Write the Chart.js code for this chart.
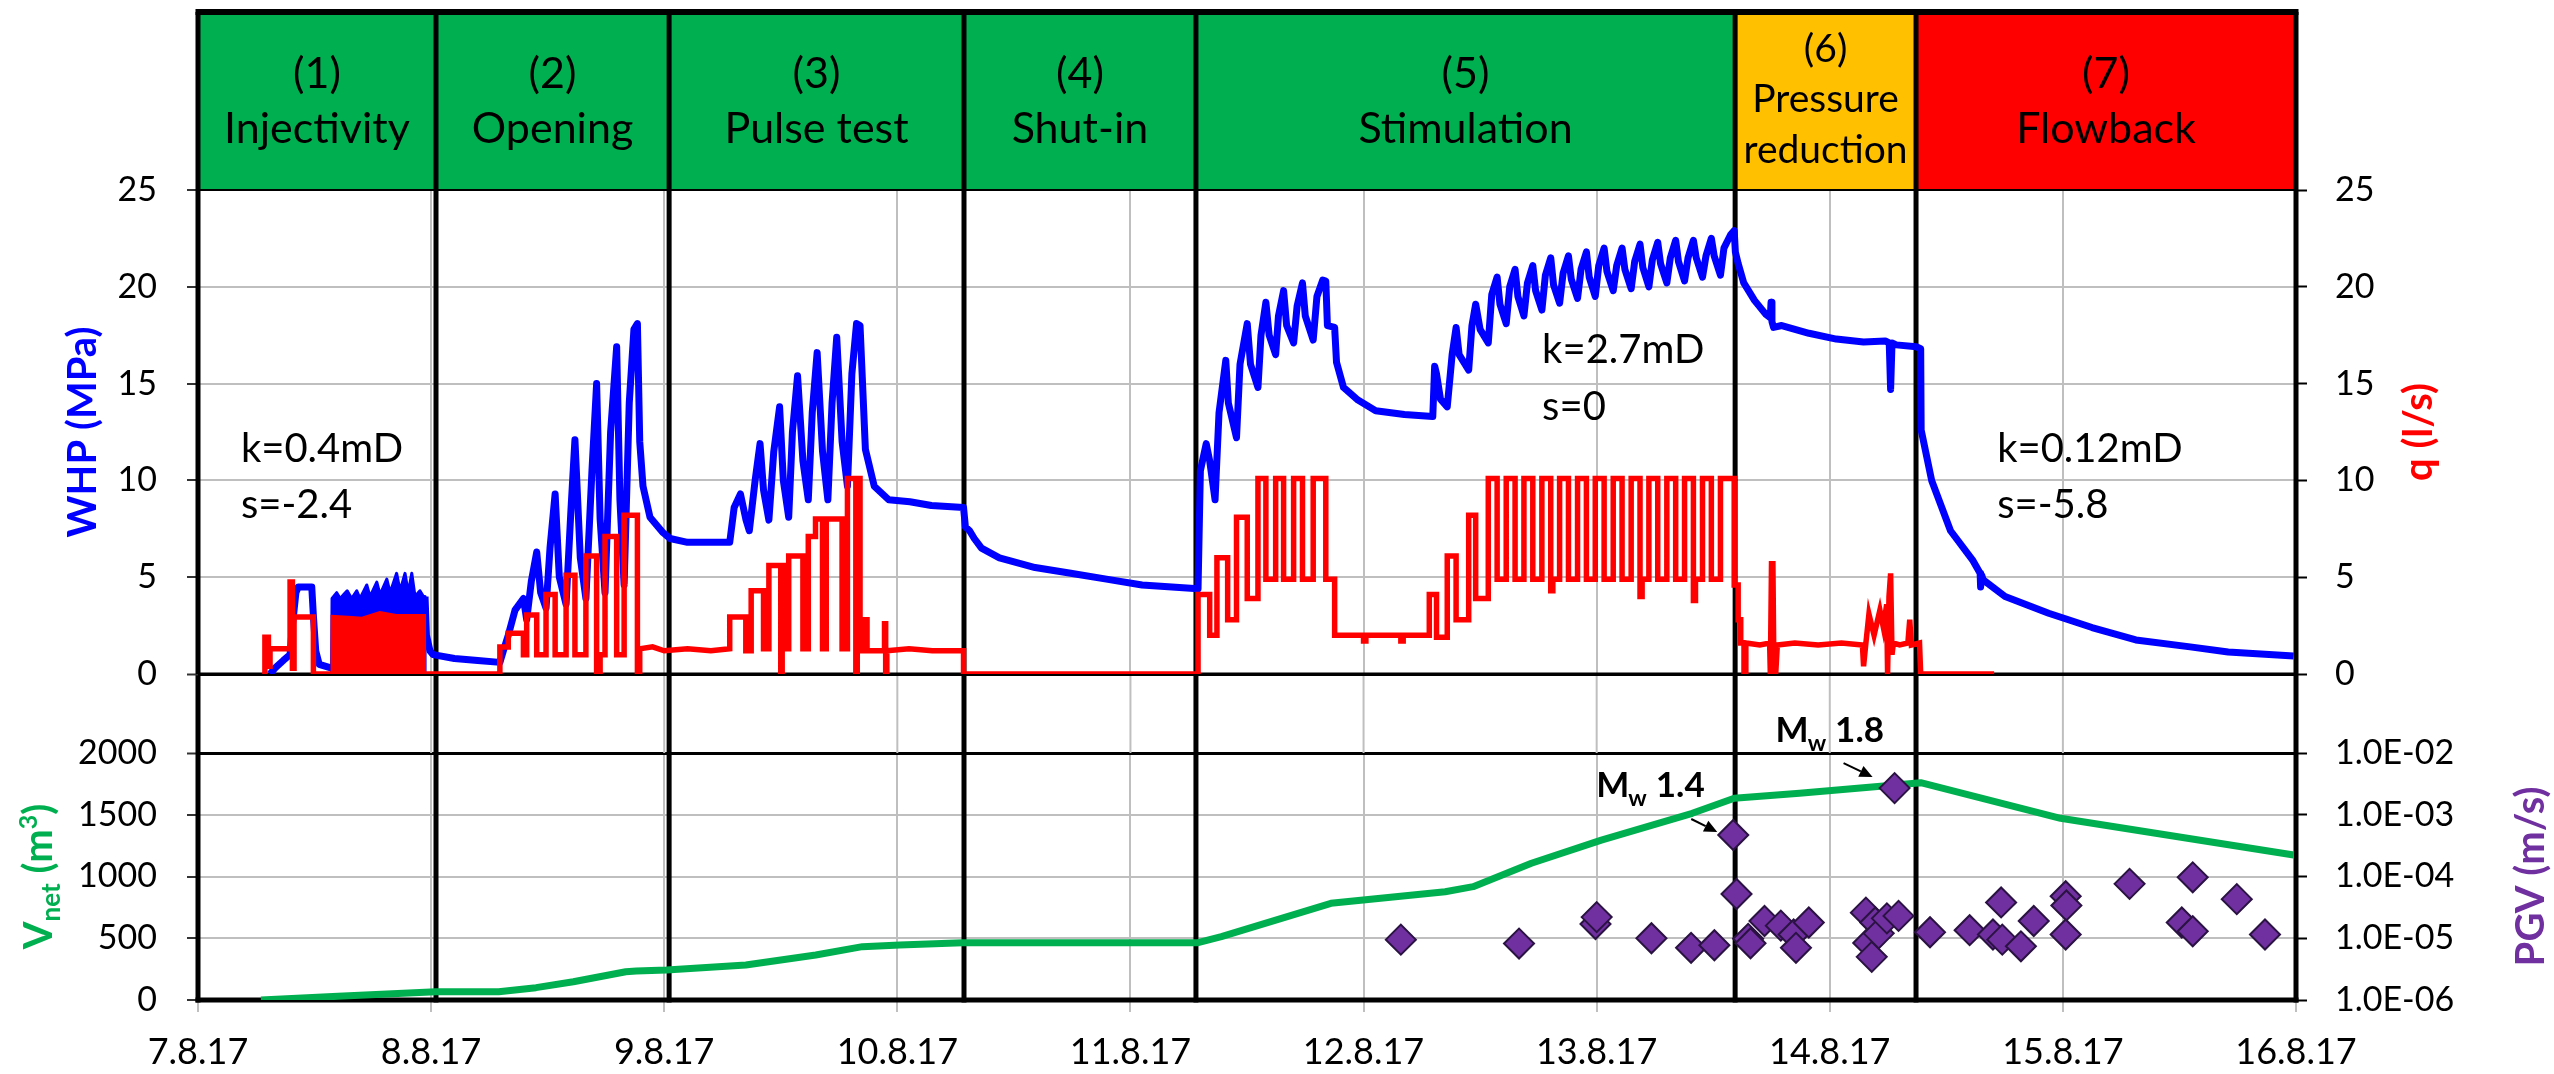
<!DOCTYPE html>
<html>
<head>
<meta charset="utf-8">
<title>Well test sequence</title>
<script src="https://cdn.jsdelivr.net/npm/chart.js@4.4.1/dist/chart.umd.min.js"></script>
<style>
  html, body { margin: 0; padding: 0; background: #ffffff; }
  #wrap { position: relative; width: 2554px; height: 1074px; overflow: hidden; }
  #wrap canvas { position: absolute; left: 0; top: 0; }
</style>
</head>
<body>
<div id="wrap">
  <canvas id="lower" width="2554" height="1074"></canvas>
  <canvas id="upper" width="2554" height="1074"></canvas>
</div>
<script>
// ---------------------------------------------------------------------------
// Data (time in days after 7.8.17 00:00)
// ---------------------------------------------------------------------------
const dateLabels = ['7.8.17', '8.8.17', '9.8.17', '10.8.17', '11.8.17', '12.8.17', '13.8.17', '14.8.17', '15.8.17', '16.8.17'];
const tickDays = [0, 1, 2, 3, 4, 5, 6, 7, 8, 9];

const phaseBounds = [0, 1.021, 2.021, 3.286, 4.281, 6.594, 7.370, 9];
const phaseNumbers = ['(1)', '(2)', '(3)', '(4)', '(5)', '(6)', '(7)'];
const phaseNames = [['Injectivity'], ['Opening'], ['Pulse test'], ['Shut-in'], ['Stimulation'], ['Pressure', 'reduction'], ['Flowback']];

const whpTicks = [0, 5, 10, 15, 20, 25];
const flowTicks = [0, 5, 10, 15, 20, 25];
const vnetTicks = [0, 500, 1000, 1500, 2000];
const pgvTicks = [1e-6, 1e-5, 1e-4, 1e-3, 1e-2];

// Wellhead pressure (MPa)
const wellheadPressure = [
  [0.309, 0], [0.330, 0.3], [0.366, 0.7], [0.395, 1.0], [0.405, 2.5], [0.420, 4.2], [0.430, 4.5], [0.488, 4.5],
  [0.495, 3.0], [0.505, 1.2], [0.520, 0.5], [0.573, 0.3], [0.750, null],
  [0.974, 4.0], [0.980, 2.0], [0.995, 1.2], [1.008, 1.0],
  [1.100, 0.8], [1.200, 0.7], [1.295, 0.6], [1.310, 1.2], [1.331, 2.0], [1.360, 3.3], [1.396, 3.9], [1.410, 2.8],
  [1.430, 4.8], [1.453, 6.3], [1.470, 4.2], [1.493, 3.4], [1.510, 6.5], [1.532, 9.3], [1.550, 5.0], [1.579, 3.6],
  [1.600, 8.5], [1.617, 12.1], [1.640, 6.0], [1.664, 3.9], [1.690, 10.5], [1.710, 15.0], [1.725, 8.0], [1.746, 4.2],
  [1.770, 12.5], [1.796, 16.9], [1.810, 9.0], [1.828, 4.6], [1.850, 14.0], [1.870, 17.8], [1.885, 18.1], [1.895, 12.0],
  [1.909, 9.7], [1.939, 8.1], [1.995, 7.3], [2.025, 7.0],
  [2.100, 6.8], [2.200, 6.8], [2.281, 6.8], [2.300, 8.6], [2.327, 9.3], [2.350, 8.0], [2.365, 7.4], [2.390, 10.0],
  [2.411, 11.9], [2.426, 9.5], [2.449, 7.95], [2.470, 11.5], [2.495, 13.8], [2.511, 10.0], [2.534, 8.1], [2.550, 12.5],
  [2.572, 15.4], [2.595, 11.0], [2.618, 9.0], [2.635, 13.5], [2.656, 16.6], [2.679, 11.5], [2.702, 9.0], [2.720, 14.0],
  [2.740, 17.4], [2.763, 12.0], [2.786, 9.7], [2.805, 15.5], [2.825, 18.1], [2.840, 18.0], [2.863, 11.6], [2.901, 9.7],
  [2.963, 9.0], [3.054, 8.9], [3.146, 8.7], [3.284, 8.6],
  [3.292, 7.6], [3.310, 7.4], [3.330, 7.0], [3.361, 6.5], [3.438, 6.0], [3.591, 5.5], [3.744, 5.2], [3.897, 4.9],
  [4.050, 4.6], [4.290, 4.4],
  [4.300, 10.5], [4.325, 11.9], [4.340, 11.0], [4.363, 9.0], [4.380, 13.5], [4.409, 16.2], [4.420, 14.0], [4.455, 12.2],
  [4.470, 16.0], [4.501, 18.1], [4.515, 16.0], [4.547, 14.8], [4.560, 17.5], [4.581, 19.2], [4.595, 17.5], [4.623, 16.5],
  [4.635, 18.5], [4.657, 19.8], [4.670, 18.0], [4.700, 17.1], [4.715, 19.0], [4.738, 20.2], [4.750, 18.5], [4.784, 17.25],
  [4.800, 19.5], [4.825, 20.35], [4.838, 20.3], [4.845, 18.0], [4.876, 17.9], [4.884, 16.1], [4.914, 14.8], [4.976, 14.15],
  [5.052, 13.6], [5.175, 13.4], [5.297, 13.3],
  [5.305, 15.9], [5.313, 15.5], [5.330, 14.2], [5.359, 13.8], [5.380, 16.5], [5.397, 17.9], [5.410, 16.5], [5.451, 15.7],
  [5.465, 18.0], [5.481, 19.1], [5.500, 17.8], [5.535, 17.1],
  [5.550, 19.6], [5.573, 20.5], [5.585, 19.1], [5.612, 18.1],
  [5.627, 20.0], [5.650, 20.9], [5.662, 19.5], [5.688, 18.5],
  [5.703, 20.2], [5.726, 21.1], [5.738, 19.8], [5.765, 18.8],
  [5.780, 20.6], [5.803, 21.5], [5.815, 20.1], [5.841, 19.15],
  [5.856, 20.7], [5.879, 21.6], [5.891, 20.4], [5.918, 19.4],
  [5.933, 20.9], [5.956, 21.8], [5.968, 20.5], [5.994, 19.5],
  [6.009, 21.1], [6.032, 22.0], [6.044, 20.8], [6.071, 19.8],
  [6.086, 21.1], [6.109, 22.0], [6.121, 20.9], [6.148, 19.9],
  [6.163, 21.3], [6.186, 22.2], [6.198, 21.0], [6.224, 20.0],
  [6.239, 21.4], [6.262, 22.3], [6.274, 21.2], [6.301, 20.2],
  [6.316, 21.5], [6.339, 22.4], [6.351, 21.3], [6.377, 20.3],
  [6.392, 21.5], [6.415, 22.4], [6.427, 21.5], [6.454, 20.5],
  [6.469, 21.6], [6.492, 22.5], [6.504, 21.6], [6.531, 20.6],
  [6.546, 22.0], [6.575, 22.7], [6.590, 22.9],
  [6.595, 21.8], [6.607, 21.2], [6.631, 20.2], [6.677, 19.3], [6.724, 18.6], [6.745, 18.4], [6.748, 19.2], [6.752, 18.2],
  [6.759, 17.9], [6.794, 18.0], [6.911, 17.6], [7.028, 17.3], [7.145, 17.15], [7.238, 17.2], [7.255, 17.1], [7.261, 14.7],
  [7.267, 17.1], [7.285, 17.0], [7.371, 16.9], [7.390, 16.8],
  [7.392, 12.6], [7.437, 10.0], [7.518, 7.4], [7.612, 5.9], [7.645, 5.2], [7.647, 4.5], [7.652, 5.1], [7.658, 4.86],
  [7.752, 4.0], [7.939, 3.14], [8.125, 2.4], [8.313, 1.76], [8.546, 1.4], [8.709, 1.14], [8.990, 0.93]
];

// Fast injectivity cycling: upper envelope of the pressure response (MPa)
const whpCyclingBand = [
  [0.573, 0], [0.573, 0.3], [0.575, 3.9], [0.595, 4.2], [0.610, 3.9], [0.625, 4.1], [0.640, 4.3], [0.659, 3.9],
  [0.681, 4.3], [0.695, 3.9], [0.724, 4.6], [0.738, 4.0], [0.767, 4.75], [0.781, 4.1], [0.810, 4.9], [0.824, 4.2],
  [0.852, 5.2], [0.867, 4.3], [0.888, 5.2], [0.902, 4.2], [0.917, 5.2], [0.931, 4.0], [0.952, 4.3], [0.967, 4.0],
  [0.974, 4.0], [0.974, 0]
];

// Injection / flow rate q (l/s)
const flowRate = [
  [0.287, 0], [0.287, 1.9], [0.302, 1.9], [0.302, 0.4], [0.309, 0.4], [0.309, 1.3], [0.395, 1.3], [0.395, 4.75],
  [0.405, 4.75], [0.405, 0.3], [0.412, 0.3], [0.412, 2.95], [0.495, 2.95], [0.495, 0], [0.573, 0],
  [0.974, 0], [1.295, 0],
  [1.295, 1.4], [1.331, 1.4], [1.331, 2.1], [1.396, 2.1], [1.396, 1.0], [1.410, 1.0], [1.410, 3.05], [1.453, 3.05],
  [1.453, 1.0], [1.493, 1.0], [1.493, 4.1], [1.532, 4.1], [1.532, 1.0], [1.579, 1.0], [1.579, 5.1], [1.617, 5.1],
  [1.617, 1.0], [1.664, 1.0], [1.664, 6.1], [1.710, 6.1], [1.710, 0], [1.725, 0], [1.725, 1.0], [1.746, 1.0],
  [1.746, 7.1], [1.796, 7.1], [1.796, 1.0], [1.828, 1.0], [1.828, 8.2], [1.885, 8.2], [1.885, 0], [1.895, 0],
  [1.895, 1.3], [1.950, 1.4], [2.000, 1.2], [2.100, 1.3], [2.200, 1.2], [2.281, 1.3],
  [2.281, 2.95], [2.350, 2.95], [2.350, 1.2], [2.373, 1.2], [2.373, 4.3], [2.426, 4.3], [2.426, 1.3], [2.449, 1.3],
  [2.449, 5.6], [2.500, 5.6], [2.500, 0], [2.506, 0], [2.506, 5.6], [2.511, 5.6], [2.511, 1.3], [2.534, 1.3],
  [2.534, 6.1], [2.595, 6.1], [2.595, 1.3], [2.618, 1.3], [2.618, 7.1], [2.649, 7.1], [2.649, 8.0], [2.679, 8.0],
  [2.679, 1.3], [2.695, 1.3], [2.695, 8.0], [2.763, 8.0], [2.763, 1.3], [2.786, 1.3], [2.786, 10.1], [2.822, 10.1],
  [2.822, 0], [2.828, 0], [2.828, 10.1], [2.840, 10.1], [2.840, 1.2], [2.863, 1.2], [2.863, 2.8], [2.870, 2.8],
  [2.870, 1.2], [2.945, 1.2], [2.945, 2.6], [2.950, 2.6], [2.950, 0], [2.955, 0], [2.955, 1.2], [3.050, 1.3],
  [3.150, 1.2], [3.284, 1.2], [3.284, 0],
  [4.290, 0],
  [4.290, 4.1], [4.340, 4.1], [4.340, 2.0], [4.371, 2.0], [4.371, 6.0], [4.417, 6.0], [4.417, 2.8], [4.455, 2.8],
  [4.455, 8.1], [4.501, 8.1], [4.501, 3.9], [4.547, 3.9], [4.547, 10.1], [4.581, 10.1], [4.581, 4.9], [4.623, 4.9],
  [4.623, 10.1], [4.657, 10.1], [4.657, 4.9], [4.700, 4.9], [4.700, 10.1], [4.738, 10.1], [4.738, 4.9], [4.784, 4.9],
  [4.784, 10.1], [4.838, 10.1], [4.838, 4.9], [4.876, 4.9], [4.876, 2.0], [5.000, 2.0], [5.000, 1.7], [5.010, 1.7],
  [5.010, 2.0], [5.160, 2.0], [5.160, 1.7], [5.170, 1.7], [5.170, 2.0], [5.282, 2.0],
  [5.282, 4.1], [5.313, 4.1], [5.313, 1.9], [5.359, 1.9], [5.359, 6.1], [5.397, 6.1], [5.397, 2.8], [5.451, 2.8],
  [5.451, 8.2], [5.481, 8.2], [5.481, 3.9], [5.535, 3.9],
  [5.535, 10.1], [5.573, 10.1], [5.573, 4.9], [5.612, 4.9],
  [5.612, 10.1], [5.650, 10.1], [5.650, 4.9], [5.688, 4.9],
  [5.688, 10.1], [5.726, 10.1], [5.726, 4.9], [5.765, 4.9],
  [5.765, 10.1], [5.803, 10.1], [5.803, 4.3], [5.812, 4.3], [5.812, 4.9], [5.841, 4.9],
  [5.841, 10.1], [5.879, 10.1], [5.879, 4.9], [5.918, 4.9],
  [5.918, 10.1], [5.956, 10.1], [5.956, 4.9], [5.994, 4.9],
  [5.994, 10.1], [6.032, 10.1], [6.032, 4.9], [6.071, 4.9],
  [6.071, 10.1], [6.109, 10.1], [6.109, 4.9], [6.148, 4.9],
  [6.148, 10.1], [6.186, 10.1], [6.186, 4.0], [6.195, 4.0], [6.195, 4.9], [6.224, 4.9],
  [6.224, 10.1], [6.262, 10.1], [6.262, 4.9], [6.301, 4.9],
  [6.301, 10.1], [6.339, 10.1], [6.339, 4.9], [6.377, 4.9],
  [6.377, 10.1], [6.415, 10.1], [6.415, 3.8], [6.424, 3.8], [6.424, 4.9], [6.454, 4.9],
  [6.454, 10.1], [6.492, 10.1], [6.492, 4.9], [6.531, 4.9],
  [6.531, 10.1], [6.590, 10.1],
  [6.590, 4.6], [6.607, 4.6], [6.607, 2.8], [6.618, 2.8], [6.618, 1.6], [6.632, 1.6], [6.632, 0], [6.640, 0],
  [6.640, 1.6], [6.700, 1.5], [6.742, 1.6], [6.745, 0], [6.750, 5.7], [6.756, 5.7], [6.760, 0.6], [6.768, 0],
  [6.775, 1.5], [6.850, 1.6], [6.950, 1.5], [7.050, 1.6], [7.140, 1.5], [7.145, 0.4], [7.155, 1.6], [7.168, 3.1],
  [7.190, 2.0], [7.215, 3.3], [7.230, 2.4], [7.244, 3.6], [7.248, 0], [7.254, 4.0], [7.261, 5.2], [7.267, 1.0],
  [7.273, 1.6], [7.300, 1.5], [7.335, 1.6], [7.343, 2.8], [7.350, 1.5], [7.385, 1.6], [7.390, 0],
  [7.705, 0]
];

// Fast injectivity cycling: envelope of the flow rate (l/s)
const flowCyclingBand = [
  [0.573, 0], [0.573, 3.0], [0.660, 2.95], [0.700, 2.9], [0.780, 3.2], [0.850, 3.05], [0.974, 3.05], [0.974, 0]
];

// Net injected volume V_net (m3)
const netVolume = [
  [0.27, 0], [0.60, 30], [1.02, 67], [1.29, 67], [1.45, 100], [1.61, 148], [1.835, 229], [1.88, 235],
  [2.01, 243], [2.35, 283], [2.65, 364], [2.85, 432], [3.01, 445], [3.28, 464], [4.29, 464], [4.39, 513],
  [4.86, 783], [5.35, 877], [5.47, 918], [5.72, 1107], [6.02, 1295], [6.41, 1512], [6.59, 1633], [6.87, 1674],
  [7.28, 1741], [7.39, 1760], [7.99, 1471], [8.99, 1174]
];

// Seismic events: peak ground velocity PGV (m/s)
const pgvEvents = [
  [5.160, 9.5e-6], [5.667, 8.2e-6], [5.995, 1.7e-5], [6.000, 2.2e-5], [6.235, 1.0e-5], [6.405, 7.0e-6],
  [6.505, 7.7e-6], [6.586, 4.7e-4], [6.600, 5.2e-5], [6.650, 9.8e-6], [6.660, 8.3e-6], [6.720, 1.9e-5],
  [6.790, 1.6e-5], [6.845, 1.15e-5], [6.855, 7.0e-6], [6.910, 1.8e-5], [7.155, 2.6e-5], [7.165, 8.4e-6],
  [7.180, 5.0e-6], [7.195, 1.8e-5], [7.210, 1.2e-5], [7.245, 2.1e-5], [7.278, 2.7e-3], [7.295, 2.3e-5],
  [7.430, 1.25e-5], [7.600, 1.35e-5], [7.700, 1.15e-5], [7.735, 3.8e-5], [7.740, 9.5e-6], [7.820, 7.4e-6],
  [7.875, 1.9e-5], [8.012, 4.8e-5], [8.015, 3.4e-5], [8.012, 1.15e-5], [8.286, 7.6e-5], [8.510, 1.8e-5],
  [8.557, 9.7e-5], [8.557, 1.3e-5], [8.746, 4.3e-5], [8.867, 1.15e-5]
];

// Largest events with their moment magnitude
const namedEvents = [
  { day: 6.586, pgv: 4.7e-4, mw: '1.4' },
  { day: 7.278, pgv: 2.7e-3, mw: '1.8' }
];

// Reservoir parameters from the pressure transient analyses
const fitNotes = [
  { day: 0.184, lines: ['k=0.4mD', 's=-2.4'] },
  { day: 5.766, lines: ['k=2.7mD', 's=0'] },
  { day: 7.718, lines: ['k=0.12mD', 's=-5.8'] }
];

// ---------------------------------------------------------------------------
// Styling and layout
// ---------------------------------------------------------------------------
const W = 2554, H = 1074;
const FRAME = { left: 198, right: 2296, headTop: 12, plotTop: 190, upperBottom: 674, lowerTop: 753, lowerBottom: 1000 };
const BLUE = '#0000FF', RED = '#FF0000', GREEN = '#00B050', PURPLE = '#7030A0', GRID = '#BFBFBF';
const phaseFill = ['#00B050', '#00B050', '#00B050', '#00B050', '#00B050', '#FFC000', '#FF0000'];
const FONT = 'Lato, "Open Sans", sans-serif';
// pressure values of the two text lines for each note (MPa)
const fitNoteLevels = [[10.96, 8.06], [16.06, 13.12], [10.96, 8.06]];
// text / arrow offsets (px) around each named event marker
const mwLabelOffsets = [
  { tx: -137, ty: -38, ax0: -42, ay0: -16, ax1: -16, ay1: -3 },
  { tx: -119, ty: -46, ax0: -51, ay0: -25, ax1: -22, ay1: -11 }
];

const pts = arr => arr.map(([x, y]) => ({ x, y }));
const fixedTicks = list => scale => { scale.ticks = list.map(v => ({ value: v })); };
const plain = v => String(v);

function sci(v) {
  const e = Math.round(Math.log10(v));
  return '1.0E' + (e < 0 ? '-' : '+') + String(Math.abs(e)).padStart(2, '0');
}

function seg(ctx, x0, y0, x1, y1, w, c) {
  ctx.save();
  ctx.beginPath();
  ctx.moveTo(x0, y0);
  ctx.lineTo(x1, y1);
  ctx.lineWidth = w;
  ctx.strokeStyle = c;
  ctx.stroke();
  ctx.restore();
}

// rotated axis title made of runs (for sub/superscripts)
function verticalTitle(ctx, cx, cy, runs, color) {
  ctx.save();
  ctx.translate(cx, cy);
  ctx.rotate(-Math.PI / 2);
  ctx.fillStyle = color;
  ctx.textAlign = 'left';
  ctx.textBaseline = 'alphabetic';
  let total = 0;
  for (const r of runs) {
    ctx.font = `bold ${r.size}px ${FONT}`;
    r.w = ctx.measureText(r.t).width;
    total += r.w;
  }
  let xx = -total / 2;
  for (const r of runs) {
    ctx.font = `bold ${r.size}px ${FONT}`;
    ctx.fillText(r.t, xx, 14 + (r.dy || 0));
    xx += r.w;
  }
  ctx.restore();
}

function arrow(ctx, x0, y0, x1, y1) {
  const ang = Math.atan2(y1 - y0, x1 - x0);
  const len = 13, half = 6;
  const bx = x1 - len * Math.cos(ang), by = y1 - len * Math.sin(ang);
  seg(ctx, x0, y0, bx, by, 2, '#000');
  ctx.save();
  ctx.beginPath();
  ctx.moveTo(x1, y1);
  ctx.lineTo(bx + half * Math.sin(ang), by - half * Math.cos(ang));
  ctx.lineTo(bx - half * Math.sin(ang), by + half * Math.cos(ang));
  ctx.closePath();
  ctx.fillStyle = '#000';
  ctx.fill();
  ctx.restore();
}

// header strip, phase boundaries and frame of the pressure / rate panel
const upperFrame = {
  id: 'upperFrame',
  beforeDatasetsDraw(chart) {
    const { ctx, chartArea: ca, scales: { x } } = chart;
    ctx.save();
    for (let i = 0; i < phaseNumbers.length; i++) {
      const x0 = x.getPixelForValue(phaseBounds[i]);
      const x1 = x.getPixelForValue(phaseBounds[i + 1]);
      ctx.fillStyle = phaseFill[i];
      ctx.fillRect(x0, FRAME.headTop, x1 - x0, ca.top - FRAME.headTop);
      ctx.fillStyle = '#000';
      ctx.textAlign = 'center';
      ctx.textBaseline = 'alphabetic';
      const cx = (x0 + x1) / 2;
      const names = phaseNames[i];
      if (names.length === 1) {
        ctx.font = `43px ${FONT}`;
        ctx.fillText(phaseNumbers[i], cx, 88);
        ctx.fillText(names[0], cx, 143);
      } else {
        ctx.font = `39px ${FONT}`;
        ctx.fillText(phaseNumbers[i], cx, 62);
        ctx.fillText(names[0], cx, 112);
        ctx.fillText(names[1], cx, 163);
      }
    }
    ctx.restore();
    seg(ctx, ca.left, ca.top, ca.right, ca.top, 2, '#000');
    for (const b of phaseBounds) {
      const px = x.getPixelForValue(b);
      seg(ctx, px, FRAME.headTop, px, ca.bottom, 5, '#000');
    }
    seg(ctx, ca.left - 2.5, FRAME.headTop, ca.right + 2.5, FRAME.headTop, 6, '#000');
    seg(ctx, ca.left, ca.bottom, ca.right, ca.bottom, 3, '#000');
  },
  afterDraw(chart) {
    const { ctx, scales: { x, yp } } = chart;
    ctx.save();
    ctx.fillStyle = '#000';
    ctx.font = `40px ${FONT}`;
    ctx.textAlign = 'left';
    ctx.textBaseline = 'alphabetic';
    fitNotes.forEach((n, i) => {
      const px = x.getPixelForValue(n.day);
      n.lines.forEach((t, j) => ctx.fillText(t, px, yp.getPixelForValue(fitNoteLevels[i][j])));
    });
    ctx.restore();
    const midY = (FRAME.plotTop + FRAME.upperBottom) / 2;
    verticalTitle(ctx, 82, midY, [{ t: 'WHP (MPa)', size: 40 }], BLUE);
    verticalTitle(ctx, 2418, midY, [{ t: 'q (l/s)', size: 40 }], RED);
  }
};

// frame, gap grid and event labels of the volume / PGV panel
const lowerFrame = {
  id: 'lowerFrame',
  beforeDatasetsDraw(chart) {
    const { ctx, chartArea: ca, scales: { x } } = chart;
    for (const d of tickDays) {
      const px = x.getPixelForValue(d);
      seg(ctx, px, FRAME.upperBottom, px, ca.top, 2, GRID);
    }
    for (const b of phaseBounds) {
      const px = x.getPixelForValue(b);
      seg(ctx, px, FRAME.upperBottom, px, ca.bottom + 2.5, 5, '#000');
    }
    seg(ctx, ca.left - 2.5, ca.bottom, ca.right + 2.5, ca.bottom, 5, '#000');
  },
  afterDatasetsDraw(chart) {
    const { ctx, scales: { x, yg } } = chart;
    namedEvents.forEach((ev, i) => {
      const o = mwLabelOffsets[i];
      const px = x.getPixelForValue(ev.day), py = yg.getPixelForValue(ev.pgv);
      ctx.save();
      ctx.fillStyle = '#000';
      ctx.textAlign = 'left';
      ctx.textBaseline = 'alphabetic';
      let tx = px + o.tx;
      const ty = py + o.ty;
      ctx.font = `bold 35px ${FONT}`;
      ctx.fillText('M', tx, ty);
      tx += ctx.measureText('M').width - 1;
      ctx.font = `bold 23px ${FONT}`;
      ctx.fillText('w', tx, ty + 9);
      tx += ctx.measureText('w').width + 9;
      ctx.font = `bold 35px ${FONT}`;
      ctx.fillText(ev.mw, tx, ty);
      ctx.restore();
      arrow(ctx, px + o.ax0, py + o.ay0, px + o.ax1, py + o.ay1);
    });
  },
  afterDraw(chart) {
    const { ctx, chartArea: ca } = chart;
    const midY = (ca.top + ca.bottom) / 2;
    verticalTitle(ctx, 38, midY, [
      { t: 'V', size: 40 }, { t: 'net', size: 26, dy: 8 }, { t: ' (m', size: 40 }, { t: '3', size: 25, dy: -15 }, { t: ')', size: 40 }
    ], GREEN);
    verticalTitle(ctx, 2530, midY, [{ t: 'PGV (m/s)', size: 40 }], PURPLE);
  }
};

function build() {
  Chart.defaults.font.family = FONT;
  Chart.defaults.color = '#000';
  Chart.defaults.animation = false;

  new Chart(document.getElementById('lower'), {
    type: 'line',
    data: {
      datasets: [
        {
          label: 'PGV', data: pts(pgvEvents), yAxisID: 'yg', showLine: false,
          pointStyle: 'rectRot', pointRadius: 15, pointBackgroundColor: PURPLE,
          pointBorderColor: '#2A1242', pointBorderWidth: 2, order: 0
        },
        {
          label: 'Vnet', data: pts(netVolume), yAxisID: 'yv', borderColor: GREEN, borderWidth: 7,
          pointRadius: 0, borderJoinStyle: 'round', fill: false, order: 1
        }
      ]
    },
    options: {
      responsive: false,
      animation: false,
      layout: { padding: { top: FRAME.lowerTop, left: 0, right: 0, bottom: 0 } },
      plugins: { legend: { display: false }, tooltip: { enabled: false } },
      scales: {
        x: {
          type: 'linear', min: 0, max: 9, position: 'bottom',
          afterBuildTicks: fixedTicks(tickDays),
          ticks: { font: { size: 36 }, padding: 19, maxRotation: 0, autoSkip: false, callback: (v, i) => dateLabels[i] },
          grid: { color: GRID, lineWidth: 2, tickLength: 12, tickColor: GRID, tickWidth: 2 },
          border: { display: false },
          afterFit: s => { s.height = H - FRAME.lowerBottom; }
        },
        yv: {
          position: 'left', min: 0, max: 2000,
          afterBuildTicks: fixedTicks(vnetTicks),
          ticks: { font: { size: 34 }, padding: 30, callback: plain },
          grid: {
            color: c => (c.tick && c.tick.value === 2000) ? '#000' : GRID,
            lineWidth: c => (c.tick && c.tick.value === 2000) ? 3 : 2,
            tickLength: 11, tickColor: '#333', tickWidth: 2
          },
          border: { display: false },
          afterFit: s => { s.width = FRAME.left; }
        },
        yg: {
          type: 'logarithmic', position: 'right', min: 1e-6, max: 1e-2,
          afterBuildTicks: fixedTicks(pgvTicks),
          ticks: { font: { size: 34 }, padding: 28, callback: v => sci(v) },
          grid: { drawOnChartArea: false, tickLength: 11, tickColor: '#000', tickWidth: 2 },
          border: { display: false },
          afterFit: s => { s.width = W - FRAME.right; }
        }
      }
    },
    plugins: [lowerFrame]
  });

  new Chart(document.getElementById('upper'), {
    type: 'line',
    data: {
      datasets: [
        {
          label: 'q', data: pts(flowRate), yAxisID: 'yq', borderColor: RED, borderWidth: 5.5,
          pointRadius: 0, fill: false, order: 0
        },
        {
          label: 'q cycling', data: pts(flowCyclingBand), yAxisID: 'yq', borderColor: RED, backgroundColor: RED,
          borderWidth: 2, pointRadius: 0, fill: 'origin', order: 0
        },
        {
          label: 'WHP', data: pts(wellheadPressure), yAxisID: 'yp', borderColor: BLUE, borderWidth: 7,
          pointRadius: 0, fill: false, borderJoinStyle: 'round', order: 1
        },
        {
          label: 'WHP cycling', data: pts(whpCyclingBand), yAxisID: 'yp', borderColor: BLUE, backgroundColor: BLUE,
          borderWidth: 3, pointRadius: 0, fill: 'origin', borderJoinStyle: 'round', order: 1
        }
      ]
    },
    options: {
      responsive: false,
      animation: false,
      spanGaps: false,
      layout: { padding: { top: FRAME.plotTop, left: 0, right: 0, bottom: 0 } },
      plugins: { legend: { display: false }, tooltip: { enabled: false } },
      scales: {
        x: {
          type: 'linear', min: 0, max: 9, position: 'bottom',
          afterBuildTicks: fixedTicks(tickDays),
          ticks: { display: false },
          grid: { color: GRID, lineWidth: 2, drawTicks: false },
          border: { display: false },
          afterFit: s => { s.height = H - FRAME.upperBottom; }
        },
        yp: {
          position: 'left', min: 0, max: 25,
          afterBuildTicks: fixedTicks(whpTicks),
          ticks: { font: { size: 34 }, padding: 30, callback: plain },
          grid: {
            color: c => (c.tick && (c.tick.value === 0 || c.tick.value === 25)) ? '#000' : GRID,
            lineWidth: c => (c.tick && c.tick.value === 0) ? 3 : 2,
            tickLength: 11, tickColor: '#333', tickWidth: 2
          },
          border: { display: false },
          afterFit: s => { s.width = FRAME.left; }
        },
        yq: {
          position: 'right', min: 0, max: 25,
          afterBuildTicks: fixedTicks(flowTicks),
          ticks: { font: { size: 34 }, padding: 28, callback: plain },
          grid: { drawOnChartArea: false, tickLength: 11, tickColor: '#000', tickWidth: 2 },
          border: { display: false },
          afterFit: s => { s.width = W - FRAME.right; }
        }
      }
    },
    plugins: [upperFrame]
  });
}

const fontsReady = document.fonts && document.fonts.load
  ? Promise.all([document.fonts.load(`40px Lato`), document.fonts.load(`bold 40px Lato`)])
  : Promise.resolve();
fontsReady.then(build, build);
</script>
</body>
</html>
